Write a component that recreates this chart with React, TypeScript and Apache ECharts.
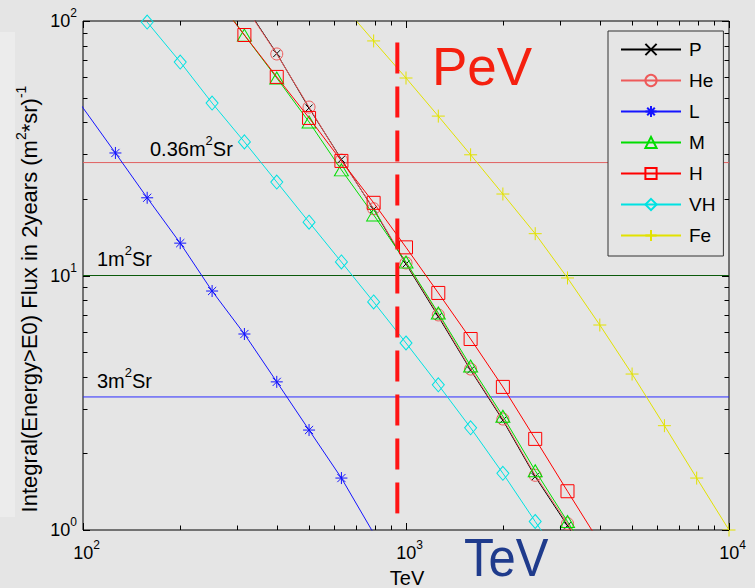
import React, { useEffect, useRef } from "react";
import * as echarts from "echarts";

// Energy grid (TeV) at which the curves are sampled
const energy = [79.4, 100, 126, 158, 200, 251, 316, 398, 501, 631, 794, 1000, 1259, 1585, 1995, 2512, 3162, 3981, 5012, 6310, 7943, 10000];

// Integral flux in 2 years, per series (null = no point)
const P = [null, null, null, null, null, null, 116, 74.5, 45.5, 28.6, 18.2, 11.1, 6.9, 4.25, 2.7, 1.62, 1.04, 0.65, null, null, null, null];
const He = [null, null, null, null, null, null, 115, 74.2, 45.9, 28.4, 18.3, 11.2, 7.0, 4.29, 2.73, 1.64, 1.06, 0.66, null, null, null, null];
const L = [68.5, null, 30.3, 20.2, 13.4, 8.69, 5.89, 3.82, 2.47, 1.6, 0.97, null, null, null, null, null, null, null, null, null, null, null];
const M = [null, null, null, null, null, 131, 88, 59.7, 40.1, 26.0, 17.3, 11.3, 7.12, 4.41, 2.8, 1.71, 1.08, 0.68, null, null, null, null];
const H = [null, null, null, null, null, 129, 88.1, 60.3, 41.6, 28.2, 19.3, 12.9, 8.54, 5.63, 3.65, 2.28, 1.42, 0.89, null, null, null, null];
const VH = [null, null, null, 99, 69.0, 47.6, 33.5, 23.3, 16.2, 11.3, 7.87, 5.43, 3.72, 2.52, 1.67, 1.08, 0.7, null, null, null, null, null];
const Fe = [null, null, null, null, null, null, null, null, null, 117, 83.5, 59.7, 42.3, 29.8, 20.9, 14.6, 9.78, 6.39, 4.1, 2.57, 1.6, 1.0];

const seriesNames = ["P", "He", "L", "M", "H", "VH", "Fe"];
const seriesValues = [P, He, L, M, H, VH, Fe];

// Acceptance reference levels (flux at which 1 event / 2 years)
const refLabels = ["0.36", "1", "3"];
const refLevels = [27.78, 10.0, 3.333];

// PeV marker energy
const pevEnergy = [940];
const pevRange = [82.4, 1.16];

// Axis ticks
const xMajor = [100, 1000, 10000];
const yMajor = [1, 10, 100];
const minorMult = [2, 3, 4, 5, 6, 7, 8, 9];

const colors = ["#000000", "#ee5a5a", "#1414ff", "#00dd00", "#ff0000", "#00e2e2", "#e2e200"];
const symbols = [
  "path://M0 0L10 10M10 0L0 10",
  "circle",
  "path://M5 0L5 10M0 5L10 5M1.6 1.6L8.4 8.4M8.4 1.6L1.6 8.4",
  "triangle",
  "rect",
  "diamond",
  "path://M5 0L5 10M0 5L10 5",
];
const symbolSizes: any[] = [7, 12, 12, [14, 12], 13, [12, 14], 13];
const refColors = ["#e06060", "#0b5a0b", "#2b2bff"];

export default function App() {
  const ref = useRef<HTMLDivElement>(null);
  useEffect(() => {
    if (!ref.current) return;
    const chart = echarts.init(ref.current, null, { renderer: "svg" });
    const font = "Arial, 'Liberation Sans', sans-serif";

    const dataSeries = seriesNames.map((name, i) => ({
      name,
      type: "line",
      data: energy.map((e, k) => [e, seriesValues[i][k]]).filter((d) => d[1] !== null),
      symbol: symbols[i],
      symbolSize: symbolSizes[i],
      showSymbol: true,
      clip: true,
      lineStyle: { color: colors[i], width: 1 },
      itemStyle: { color: "rgba(0,0,0,0)", borderColor: colors[i], borderWidth: 1 },
      emphasis: { disabled: true },
      z: 3 + i,
    }));

    const refSeries = refLevels.map((v, i) => ({
      name: "ref" + i,
      type: "line",
      data: [
        [100, v],
        [10000, v],
      ],
      symbol: "none",
      lineStyle: { color: refColors[i], width: 1 },
      silent: true,
      z: 2,
    }));

    const pevSeries = {
      name: "pev",
      type: "line",
      data: [
        [pevEnergy[0], pevRange[0]],
        [pevEnergy[0], pevRange[1]],
      ],
      symbol: "none",
      lineStyle: { color: "#ff1414", width: 4, type: [31, 13] },
      silent: true,
      z: 20,
    };

    const tickData: any[] = [];
    for (let d = 0; d < xMajor.length; d++) {
      tickData.push([xMajor[d], 1, 0, 1]);
      if (d < xMajor.length - 1) minorMult.forEach((m) => tickData.push([xMajor[d] * m, 1, 0, 0]));
    }
    for (let d = 0; d < yMajor.length; d++) {
      tickData.push([100, yMajor[d], 1, 1]);
      if (d < yMajor.length - 1) minorMult.forEach((m) => tickData.push([100, yMajor[d] * m, 1, 0]));
    }

    const tickSeries = {
      type: "custom",
      silent: true,
      z: 30,
      data: tickData,
      encode: { x: 0, y: 1 },
      renderItem: (params: any, api: any) => {
        const kind = api.value(2);
        const major = api.value(3);
        const st = { stroke: "#000", lineWidth: 1 };
        if (kind === 0) {
          const v = api.value(0);
          const b = api.coord([v, 1]);
          const t = api.coord([v, 100]);
          const len = major ? 7 : 4.5;
          const x = Math.round(b[0]) + 0.5;
          return {
            type: "group",
            children: [
              { type: "line", shape: { x1: x, y1: b[1], x2: x, y2: b[1] - len }, style: st },
              { type: "line", shape: { x1: x, y1: t[1], x2: x, y2: t[1] + len }, style: st },
            ],
          };
        } else {
          const v = api.value(1);
          const l = api.coord([100, v]);
          const r = api.coord([10000, v]);
          const len = major ? 7 : 4.5;
          const y = Math.round(l[1]) + 0.5;
          return {
            type: "group",
            children: [
              { type: "line", shape: { x1: l[0], y1: y, x2: l[0] + len, y2: y }, style: st },
              { type: "line", shape: { x1: r[0], y1: y, x2: r[0] - len, y2: y }, style: st },
            ],
          };
        }
      },
    };

    const supRich = {
      b: { fontSize: 18, fontFamily: font, color: "#000", padding: [5, 0, 0, 0], verticalAlign: "bottom" },
      s: { fontSize: 12, fontFamily: font, color: "#000", verticalAlign: "top" },
    };
    const xRich = {
      b: { ...supRich.b, padding: [5, 0, 0, 7] },
      s: supRich.s,
    };
    const expFmt = (v: number) => `{b|10}{s|${Math.round(Math.log10(v))}}`;

    const txtRich = {
      a: { fontSize: 20, fontFamily: font, color: "#000", padding: [5, 0, 0, 0], verticalAlign: "bottom" },
      s: { fontSize: 13, fontFamily: font, color: "#000", verticalAlign: "top" },
    };
    const refPos = [
      [150, 134],
      [97, 244],
      [97, 366],
    ];

    const option: any = {
      animation: false,
      backgroundColor: "#e5e5e5",
      grid: {
        left: 83,
        top: 21,
        right: 26,
        bottom: 58,
        show: true,
        borderColor: "#000",
        borderWidth: 1,
        backgroundColor: "transparent",
      },
      xAxis: {
        type: "log",
        logBase: 10,
        min: 100,
        max: 10000,
        axisLine: { show: false },
        axisTick: { show: false },
        splitLine: { show: false },
        minorTick: { show: false },
        axisLabel: { margin: 9, formatter: expFmt, rich: xRich },
      },
      yAxis: {
        type: "log",
        logBase: 10,
        min: 1,
        max: 100,
        axisLine: { show: false },
        axisTick: { show: false },
        splitLine: { show: false },
        axisLabel: { margin: 6, formatter: expFmt, rich: supRich, padding: [0, 0, 5, 0] },
      },
      legend: {
        data: seriesNames,
        orient: "vertical",
        left: 608,
        top: 31,
        itemWidth: 60,
        itemHeight: 14,
        itemGap: 12,
        padding: [9, 8, 11, 12],
        borderColor: "#333",
        borderWidth: 1,
        backgroundColor: "#e5e5e5",
        selectedMode: false,
        textStyle: { fontSize: 19, fontFamily: font, color: "#000", lineHeight: 14, padding: [0, 0, 0, 3] },
      },
      graphic: [
        { type: "rect", shape: { x: 0, y: 32, width: 15, height: 485 }, style: { fill: "#ececec" }, z: -10 },
        ...refLabels.map((lab, i) => ({
          type: "text",
          x: refPos[i][0],
          y: refPos[i][1],
          z: 50,
          style: {
            text: `{a|${lab}m}{s|2}{a|Sr}`,
            rich: txtRich,
            align: "left",
            verticalAlign: "top",
          },
        })),
        {
          type: "text",
          x: 432,
          y: 66,
          z: 50,
          style: { text: "PeV", fontSize: 53, fontFamily: font, fill: "#f5200f", align: "left", verticalAlign: "middle" },
        },
        {
          type: "text",
          x: 464,
          y: 558,
          scaleY: 1.08,
          z: 50,
          style: { text: "TeV", fontSize: 49, fontFamily: font, fill: "#1f3b8c", align: "left", verticalAlign: "middle" },
        },
        {
          type: "text",
          x: 407,
          y: 578,
          z: 50,
          style: { text: "TeV", fontSize: 20, fontFamily: font, fill: "#000", align: "center", verticalAlign: "middle" },
        },
        {
          type: "text",
          x: 27,
          y: 299,
          rotation: Math.PI / 2,
          z: 50,
          style: {
            text: "{t|Integral(Energy>E0) Flux in 2years (m}{s|2}{t|*sr)}{s|-1}",
            rich: {
              t: { fontSize: 22, fontFamily: font, color: "#000", padding: [5, 0, 0, 0], verticalAlign: "bottom" },
              s: { fontSize: 14, fontFamily: font, color: "#000", verticalAlign: "top" },
            },
            align: "center",
            verticalAlign: "middle",
          },
        },
      ],
      series: [...refSeries, ...dataSeries, pevSeries, tickSeries],
    };
    chart.setOption(option);
    return () => chart.dispose();
  }, []);
  return <div ref={ref} style={{ position: "fixed", left: 0, top: 0, width: 755, height: 588 }} />;
}
